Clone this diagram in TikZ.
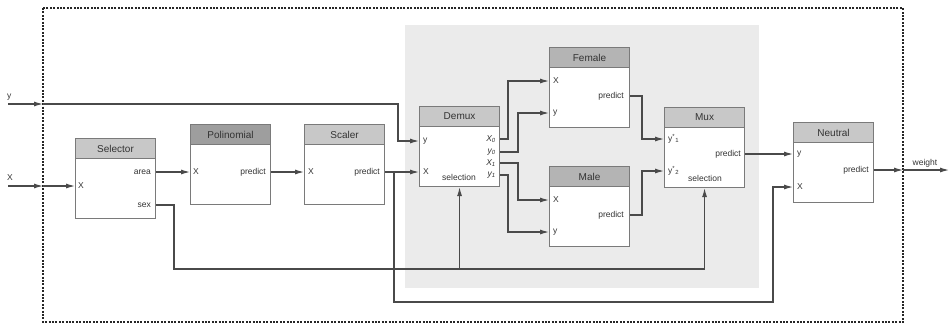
\documentclass[tikz,border=0pt]{standalone}
\usepackage{fontspec}
\setmainfont{Liberation Sans}
\usetikzlibrary{arrows.meta}
\definecolor{hdrA}{HTML}{C8C8C8}
\definecolor{hdrB}{HTML}{9E9E9E}
\definecolor{hdrC}{HTML}{B4B4B4}
\definecolor{areabg}{HTML}{EBEBEB}
\definecolor{boxline}{HTML}{7A7A7A}
\definecolor{wireclr}{HTML}{4A4A4A}
\definecolor{txtclr}{HTML}{333333}
\begin{document}
\begin{tikzpicture}[x=1pt,y=-1pt,
 blk/.style={draw=boxline,line width=1.1pt,fill=white,minimum width=80pt,minimum height=80pt,inner sep=0pt,anchor=north west},
 hdr/.style={draw=boxline,line width=1.1pt,minimum width=80pt,minimum height=20pt,inner sep=0pt,anchor=north west,font=\fontsize{10}{12}\selectfont,text=txtclr},
 pin/.style={inner sep=0pt,font=\fontsize{8.5}{10}\selectfont,text=txtclr,anchor=west},
 pout/.style={pin,anchor=east},
 pmid/.style={pin,anchor=center},
 wire/.style={draw=wireclr,line width=1.1pt},
 arr/.style={wire,-{Latex[length=9pt,width=5pt]}},
 border/.style={draw=black!85,line width=1.3pt,dash pattern=on 2pt off 1.4pt},
]
\useasboundingbox (0,0) rectangle (952,324);
% outer dotted frame and grey group area
\draw[border] (43,8) rectangle (903,322);
\fill[areabg] (405,25) rectangle (759,288);

% blocks
\node[blk] (sel) at (75,138) {};
\node[hdr,fill=hdrA] (selh) at (sel.north west) {Selector};
\node[blk] (pol) at (190,124) {};
\node[hdr,fill=hdrB] (polh) at (pol.north west) {Polinomial};
\node[blk] (scl) at (304,124) {};
\node[hdr,fill=hdrA] (sclh) at (scl.north west) {Scaler};
\node[blk] (dmx) at (419,106) {};
\node[hdr,fill=hdrA] (dmxh) at (dmx.north west) {Demux};
\node[blk] (fem) at (549,47) {};
\node[hdr,fill=hdrC] (femh) at (fem.north west) {Female};
\node[blk] (mal) at (549,166) {};
\node[hdr,fill=hdrC] (malh) at (mal.north west) {Male};
\node[blk] (mux) at (664,107) {};
\node[hdr,fill=hdrA] (muxh) at (mux.north west) {Mux};
\node[blk] (neu) at (793,122) {};
\node[hdr,fill=hdrA] (neuh) at (neu.north west) {Neutral};

% port labels
\node[pin] (selX) at (78,186) {X};
\node[pout] (selA) at (151,172) {area};
\node[pout] (selS) at (151,205) {sex};
\node[pin] (polX) at (193,172) {X};
\node[pout] (polP) at (266,172) {predict};
\node[pin] (sclX) at (308,172) {X};
\node[pout] (sclP) at (380,172) {predict};
\node[pin] (dmxY) at (423,141) {y};
\node[pin] (dmxX) at (423,172) {X};
\node[pmid] (dmxS) at (459,177) {selection};
\node[pout] (dmxXo) at (496,139) {\itshape X\textsubscript{0}};
\node[pout] (dmxyo) at (496,152) {\itshape y\textsubscript{0}};
\node[pout] (dmxXi) at (496,163) {\itshape X\textsubscript{1}};
\node[pout] (dmxyi) at (496,175) {\itshape y\textsubscript{1}};
\node[pin] (femX) at (553,81) {X};
\node[pin] (femY) at (553,113) {y};
\node[pout] (femP) at (624,96) {predict};
\node[pin] (malX) at (553,200) {X};
\node[pin] (malY) at (553,232) {y};
\node[pout] (malP) at (624,215) {predict};
\node[pin] (muxYa) at (668,139) {y\textsuperscript{*}\textsubscript{1}};
\node[pin] (muxYb) at (668,171) {y\textsuperscript{*}\textsubscript{2}};
\node[pout] (muxP) at (741,154) {predict};
\node[pmid] (muxS) at (705,178) {selection};
\node[pin] (neuY) at (797,154) {y};
\node[pin] (neuX) at (797,187) {X};
\node[pout] (neuP) at (869,170) {predict};

% external labels
\node[pin] (ylab) at (7,97) {y};
\node[pin] (xlab) at (7,178) {X};
\node[pmid] (wlab) at (925,163) {weight};

% free ends
\coordinate (yin) at (8,104);
\coordinate (ybd) at (43,104);
\coordinate (xin) at (8,186);
\coordinate (xbd) at (43,186);
\coordinate (wbd) at (903,170);
\coordinate (wout) at (949,170);
\coordinate (sexrow) at (0,269);

% connectors
\draw[arr] (yin) -- (ybd);
\draw[arr] (ybd) -- (398,104) |- (dmx.west |- dmxY);
\draw[arr] (xin) -- (xbd);
\draw[arr] (xbd) -- (sel.west |- selX);
\draw[arr] (sel.east |- selA) -- (pol.west |- polX);
\draw[arr] (pol.east |- polP) -- (scl.west |- sclX);
\draw[arr] (scl.east |- sclP) -- (dmx.west |- dmxX);
\draw[arr] (scl.east |- sclP) -- (394,172) |- (773,302) |- (neu.west |- neuX);
\draw[arr] (sel.east |- selS) -| (174,269) -| (mux.south);
\draw[arr] (dmx.south |- sexrow) -- (dmx.south);
\draw[arr] (dmx.east |- dmxXo) -- (508,139) |- (fem.west |- femX);
\draw[arr] (dmx.east |- dmxyo) -- (518,152) |- (fem.west |- femY);
\draw[arr] (dmx.east |- dmxXi) -- (518,163) |- (mal.west |- malX);
\draw[arr] (dmx.east |- dmxyi) -- (508,175) |- (mal.west |- malY);
\draw[arr] (fem.east |- femP) -- (642,96) |- (mux.west |- muxYa);
\draw[arr] (mal.east |- malP) -- (642,215) |- (mux.west |- muxYb);
\draw[arr] (mux.east |- muxP) -- (neu.west |- neuY);
\draw[arr] (neu.east |- neuP) -- (wbd);
\draw[arr] (wbd) -- (wout);
\end{tikzpicture}
\end{document}
